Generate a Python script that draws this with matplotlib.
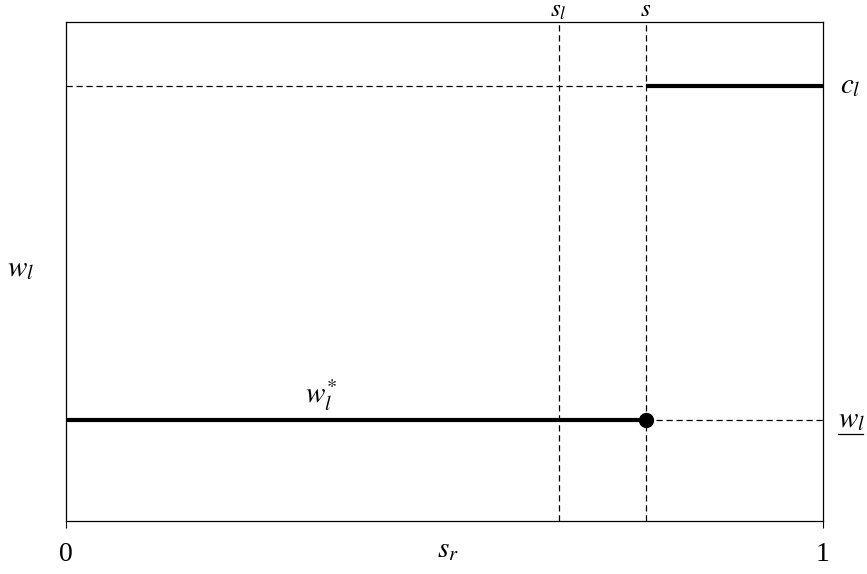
import matplotlib
matplotlib.use('Agg')
import matplotlib.pyplot as plt

plt.rcParams['mathtext.fontset'] = 'stix'
plt.rcParams['font.family'] = 'Liberation Serif'

# положения порогов и уровней (оценки по картинке)
s_l = 0.651
s_star = 0.766
c_l = 0.872
w_low = 0.202
x_ticks = [0, 1]
x_tick_labels = ['0', '1']

fig = plt.figure(figsize=(8.67, 5.74), dpi=100)
ax = fig.add_axes([0.0761, 0.0923, 0.873, 0.8694])
ax.set_xlim(0, 1)
ax.set_ylim(0, 1)

dash = dict(color='black', linestyle=(0, (5, 3)), linewidth=0.9)
ax.axvline(s_l, **dash)
ax.axvline(s_star, **dash)
ax.plot([0, s_star], [c_l, c_l], **dash)
ax.plot([s_star, 1], [w_low, w_low], **dash)

# толстые участки
ax.plot([0, s_star], [w_low, w_low], color='black', linewidth=3, solid_capstyle='butt')
ax.plot([s_star, 1], [c_l, c_l], color='black', linewidth=3, solid_capstyle='butt')
ax.plot([s_star], [w_low], 'o', color='black', markersize=10)

for sp in ax.spines.values():
    sp.set_linewidth(0.9)

ax.set_xticks(x_ticks)
ax.set_xticklabels(x_tick_labels, fontsize=20)
ax.tick_params(axis='x', direction='out', length=5, pad=10)
ax.set_yticks([])

fs = 21
ax.text(s_l, 1.011, r'$s_l$', ha='center', va='baseline', fontsize=18)
ax.text(s_star, 1.011, r'$s$', ha='center', va='baseline', fontsize=18)
ax.text(1.022, c_l, r'$c_l$', ha='left', va='center', fontsize=fs)
ax.text(1.02, w_low, r'$w_l$', ha='left', va='center', fontsize=fs)
# подчёркивание для нижней границы
ax.plot([1.02, 1.053], [w_low - 0.028, w_low - 0.028], color='black',
        linewidth=0.9, clip_on=False)
ax.text(0.337, w_low + 0.015, r'$w_l^{*}$', ha='center', va='bottom', fontsize=fs)
ax.text(0.505, -0.058, r'$s_r$', ha='center', va='center', fontsize=fs)
ax.text(-0.06, 0.505, r'$w_l$', ha='center', va='center', fontsize=fs)

fig.savefig('out.png', dpi=100)
